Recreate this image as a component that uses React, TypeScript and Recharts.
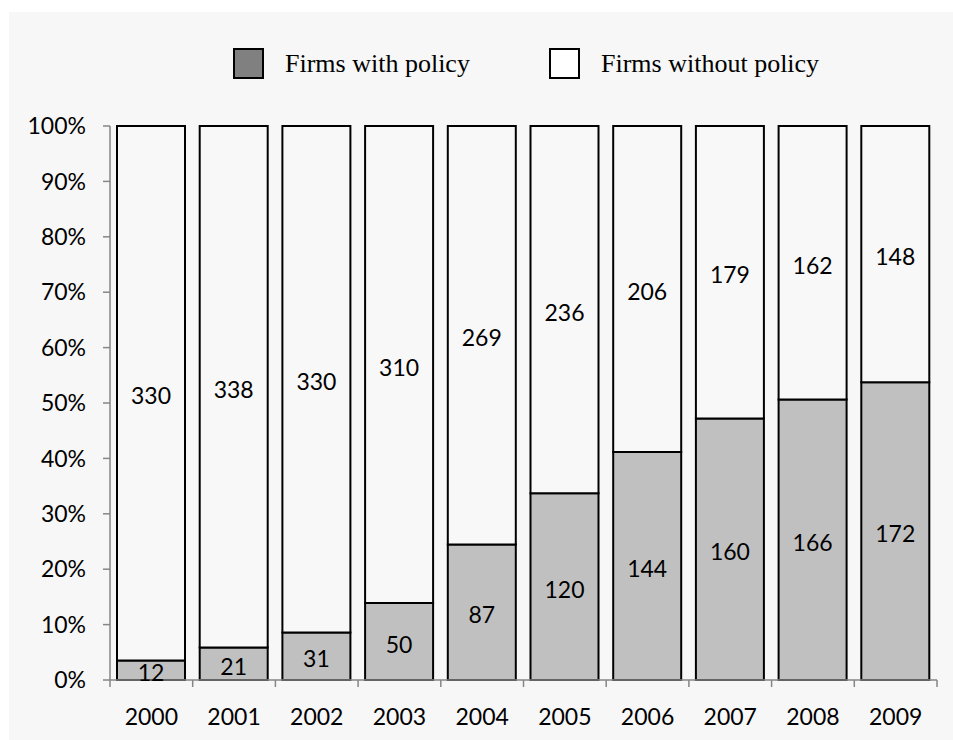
import React from 'react';
import { BarChart, Bar, XAxis, YAxis, LabelList } from 'recharts';

const years = ['2000', '2001', '2002', '2003', '2004', '2005', '2006', '2007', '2008', '2009'];
const withPolicy = [12, 21, 31, 50, 87, 120, 144, 160, 166, 172];
const withoutPolicy = [330, 338, 330, 310, 269, 236, 206, 179, 162, 148];
const yTicks = [0, 0.1, 0.2, 0.3, 0.4, 0.5, 0.6, 0.7, 0.8, 0.9, 1];

const AXIS = '#868686';
const LABEL_FONT = 'Lato, sans-serif';

const rows = years.map((year, i) => ({
  year,
  withPolicy: withPolicy[i],
  withoutPolicy: withoutPolicy[i],
}));

// x ticks sit on the category boundaries, labels in the middle
function YearTick(props: any) {
  const { x, y, payload, index, width, visibleTicksCount } = props;
  const half = width / (visibleTicksCount || years.length) / 2;
  return (
    <g>
      <line x1={x - half} y1={y} x2={x - half} y2={y + 7} stroke={AXIS} strokeWidth={1.5} />
      {index === years.length - 1 && (
        <line x1={x + half} y1={y} x2={x + half} y2={y + 7} stroke={AXIS} strokeWidth={1.5} />
      )}
      <text
        x={x}
        y={y + 39}
        textAnchor="middle"
        dominantBaseline="middle"
        fontSize={23}
        fontFamily={LABEL_FONT}
        fill="#000"
      >
        {payload.value}
      </text>
    </g>
  );
}

function LegendItem({ left, color, label }: { left: number; color: string; label: string }) {
  return (
    <>
      <div
        style={{
          position: 'absolute',
          left,
          top: 48,
          width: 27,
          height: 27,
          background: color,
          border: '2px solid #000',
        }}
      />
      <div
        style={{
          position: 'absolute',
          left: left + 52,
          top: 48,
          fontFamily: '"Liberation Serif", "Times New Roman", serif',
          fontSize: 26,
          lineHeight: '32px',
          whiteSpace: 'nowrap',
          color: '#000',
        }}
      >
        {label}
      </div>
    </>
  );
}

export default function App() {
  return (
    <div style={{ position: 'relative', width: 953, height: 740, background: '#fff', overflow: 'hidden' }}>
      <style>{'body { margin: 0; }'}</style>
      <div style={{ position: 'absolute', left: 9, top: 12, right: 0, bottom: 0, background: '#f7f7f7' }} />
      <div style={{ position: 'absolute', left: 0, top: 0 }}>
        <BarChart
          width={953}
          height={740}
          data={rows}
          stackOffset="expand"
          margin={{ top: 126, right: 16, bottom: 0, left: 0 }}
        >
          <XAxis
            dataKey="year"
            height={60}
            axisLine={{ stroke: AXIS, strokeWidth: 1.5 }}
            tickLine={false}
            tickSize={0}
            tickMargin={0}
            interval={0}
            tick={<YearTick />}
          />
          <YAxis
            width={110}
            domain={[0, 1]}
            ticks={yTicks}
            interval={0}
            tickFormatter={(v: number) => `${Math.round(v * 100)}%`}
            axisLine={{ stroke: AXIS, strokeWidth: 1.5 }}
            tickLine={{ stroke: AXIS, strokeWidth: 1.5 }}
            tickSize={7}
            tickMargin={17}
            tick={{ fontSize: 23, fontFamily: LABEL_FONT, fill: '#000' }}
          />
          <Bar
            dataKey="withPolicy"
            stackId="a"
            fill="#c0c0c0"
            stroke="#000"
            strokeWidth={2}
            barSize={68}
            isAnimationActive={false}
          >
            <LabelList
              dataKey="withPolicy"
              position="center"
              fill="#000"
              fontSize={23}
              fontFamily={LABEL_FONT}
              dy={3}
            />
          </Bar>
          <Bar
            dataKey="withoutPolicy"
            stackId="a"
            fill="#f8f8f8"
            stroke="#000"
            strokeWidth={2}
            barSize={68}
            isAnimationActive={false}
          >
            <LabelList
              dataKey="withoutPolicy"
              position="center"
              fill="#000"
              fontSize={23}
              fontFamily={LABEL_FONT}
              dy={3}
            />
          </Bar>
        </BarChart>
      </div>
      <LegendItem left={233} color="#808080" label="Firms with policy" />
      <LegendItem left={549} color="#fff" label="Firms without policy" />
    </div>
  );
}
